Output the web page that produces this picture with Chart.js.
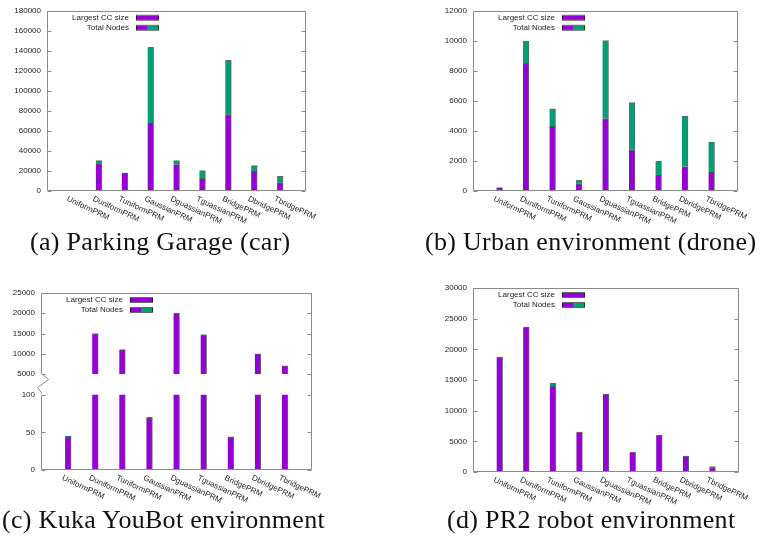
<!DOCTYPE html>
<html>
<head>
<meta charset="utf-8">
<script src="https://cdn.jsdelivr.net/npm/chart.js@4"></script>
<style>
  body { margin: 0; width: 760px; height: 542px; background: #fff; position: relative; overflow: hidden; }
  canvas { position: absolute; }
  .cap { position: absolute; font-family: "Liberation Serif", serif; font-size: 26px; line-height: 26px;
         white-space: nowrap; color: #111; letter-spacing: 0.3px; }
</style>
</head>
<body>
<canvas id="garage" width="380" height="228" style="left:0;top:0"></canvas>
<canvas id="urban" width="380" height="228" style="left:380px;top:0"></canvas>
<canvas id="kukaTop" width="380" height="124" style="left:0;top:270px"></canvas>
<canvas id="kukaLow" width="380" height="130" style="left:0;top:384px"></canvas>
<canvas id="pr2" width="380" height="240" style="left:380px;top:270px"></canvas>

<div class="cap" style="left:30px;top:229px">(a) Parking Garage (car)</div>
<div class="cap" style="left:425px;top:229px">(b) Urban environment (drone)</div>
<div class="cap" style="left:2px;top:507px">(c) Kuka YouBot environment</div>
<div class="cap" style="left:447px;top:507px">(d) PR2 robot environment</div>

<script>
const categories = ['UniformPRM', 'DuniformPRM', 'TuniformPRM', 'GaussianPRM', 'DguassianPRM',
                    'TguassianPRM', 'BridgePRM', 'DbridgePRM', 'TbridgePRM'];

// (a) parking garage
const garageLargest = [null, 27400, 17900, 67500, 26400, 12700, 76300, 19600, 8200];
const garageTotal   = [null, 30300, 18000, 143500, 30300, 20500, 130500, 25400, 14700];
// (b) urban
const urbanLargest = [220, 8480, 4300, 480, 4830, 2740, 1040, 1630, 1240];
const urbanTotal   = [220, 9980, 5480, 720, 10020, 5890, 1980, 4980, 3260];
// (c) kuka youbot (broken y axis)
const kukaLargest = [44, 15000, 11000, 69, 20000, 14600, 43, 10000, 7000];
const kukaTotal   = [45, 15000, 11000, 70, 20000, 14700, 44, 10000, 7000];
// (d) pr2
const pr2Largest = [18750, 23640, 14020, 6520, 12720, 3200, 6030, 2610, 700];
const pr2Total   = [18750, 23640, 14460, 6520, 12720, 3200, 6030, 2610, 900];

const PURPLE = '#9400d3';
const GREEN = '#009e73';
const EDGE = 'rgba(0,0,0,0.6)';
const AXIS = '#8a8a8a';
const FONT = 'Liberation Sans, Arial, sans-serif';

// frame, ticks, legend and slanted x labels
const decor = {
  id: 'decor',
  afterDraw(chart, args, o) {
    const { ctx, chartArea: a } = chart;
    const y = chart.scales.y, x = chart.scales.x;
    const L = Math.round(a.left) + 0.5, R = Math.round(a.right) - 0.5;
    const T = Math.round(a.top) + 0.5, B = Math.round(a.bottom) - 0.5;
    ctx.save();
    ctx.strokeStyle = AXIS;
    ctx.lineWidth = 1;
    ctx.beginPath();
    if (o.top) { ctx.moveTo(L, T); ctx.lineTo(R, T); }
    if (o.bottom) { ctx.moveTo(L, B); ctx.lineTo(R, B); }
    ctx.moveTo(L, T); ctx.lineTo(L, B);
    ctx.moveTo(R, o.top ? T : 0); ctx.lineTo(R, o.bottom ? B : chart.height);
    if (o.zigzag) {
      ctx.moveTo(L, B);
      ctx.lineTo(L + 7, B + 6);
      ctx.lineTo(L - 4, B + 14);
      ctx.lineTo(L, B + 19);
      ctx.lineTo(L, chart.height);
    }
    y.ticks.forEach(t => {
      const py = Math.round(y.getPixelForValue(t.value)) + 0.5;
      ctx.moveTo(L, py); ctx.lineTo(L + 4, py);
      ctx.moveTo(R, py); ctx.lineTo(R - 4, py);
    });
    ctx.stroke();

    ctx.fillStyle = '#222';
    ctx.font = '8px ' + FONT;
    if (o.legend) {
      const tx = a.left + 82, sx = a.left + 89, sw = 23;
      const rows = [a.top + 7, a.top + 17];
      ctx.textAlign = 'right';
      ctx.textBaseline = 'middle';
      ctx.fillText('Largest CC size', tx, rows[0]);
      ctx.fillText('Total Nodes', tx, rows[1]);
      ctx.fillStyle = PURPLE;
      ctx.fillRect(sx, rows[0] - 2, sw, 4);
      ctx.fillRect(sx, rows[1] - 2, 11, 4);
      ctx.fillStyle = GREEN;
      ctx.fillRect(sx + 11, rows[1] - 2, sw - 11, 4);
      ctx.strokeStyle = EDGE;
      rows.forEach(r => ctx.strokeRect(sx + 0.5, r - 2.5, sw - 1, 5));
      ctx.fillStyle = '#222';
    }
    if (o.xLabels) {
      ctx.textAlign = 'left';
      ctx.textBaseline = 'top';
      categories.forEach((c, i) => {
        const px = x.getPixelForValue(i + 1);
        ctx.save();
        ctx.translate(px - 4, a.bottom + 4);
        ctx.rotate(25 * Math.PI / 180);
        ctx.fillText(c, 0, 0);
        ctx.restore();
      });
    }
    ctx.restore();
  }
};

function makeChart(id, largest, total, p) {
  const pad = arr => [null, ...arr, null];
  const rest = total.map((t, i) => (t == null ? null : t - largest[i]));
  const bar = {
    barThickness: 6,
    borderColor: EDGE,
    borderWidth: { top: 1, right: 1, left: 0, bottom: 0 },
    borderSkipped: false,
    clip: 0
  };
  return new Chart(document.getElementById(id), {
    type: 'bar',
    data: {
      labels: ['', ...categories, ''],
      datasets: [
        { label: 'Largest CC size', data: pad(largest), backgroundColor: PURPLE, ...bar },
        { label: 'Total Nodes', data: pad(rest), backgroundColor: GREEN, ...bar }
      ]
    },
    options: {
      responsive: false,
      animation: false,
      devicePixelRatio: 1,
      layout: { padding: { left: 0, top: p.top, right: p.right, bottom: p.bottom } },
      plugins: {
        legend: { display: false },
        tooltip: { enabled: false },
        decor: p.frame
      },
      scales: {
        x: { display: false, stacked: true, offset: false },
        y: {
          stacked: true,
          min: p.min, max: p.max,
          afterFit: s => { s.width = p.left; },
          grid: { display: false, drawTicks: false },
          border: { display: false },
          ticks: {
            stepSize: p.step, autoSkip: false, padding: 6, color: '#222',
            font: { family: FONT, size: 8 },
            callback: v => String(v)
          }
        }
      }
    },
    plugins: [decor]
  });
}

const full = { top: true, bottom: true, legend: true, xLabels: true };

makeChart('garage', garageLargest, garageTotal,
  { min: 0, max: 180000, step: 20000, left: 47, top: 7, right: 74, bottom: 37, frame: full });
makeChart('urban', urbanLargest, urbanTotal,
  { min: 0, max: 12000, step: 2000, left: 93, top: 7, right: 22, bottom: 37, frame: full });
makeChart('kukaTop', kukaLargest, kukaTotal,
  { min: 5000, max: 25000, step: 5000, left: 41, top: 23, right: 68, bottom: 20,
    frame: { top: true, bottom: false, zigzag: true, legend: true, xLabels: false } });
makeChart('kukaLow', kukaLargest, kukaTotal,
  { min: 0, max: 100, step: 50, left: 41, top: 10, right: 68, bottom: 44,
    frame: { top: false, bottom: true, legend: false, xLabels: true } });
makeChart('pr2', pr2Largest, pr2Total,
  { min: 0, max: 30000, step: 5000, left: 93, top: 18, right: 21, bottom: 38, frame: full });
</script>
</body>
</html>
